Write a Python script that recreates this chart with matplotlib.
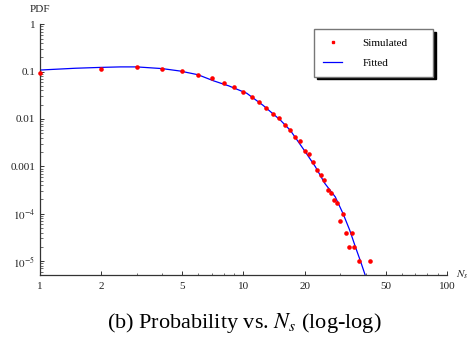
import matplotlib
matplotlib.use('Agg')
import matplotlib.pyplot as plt
from matplotlib.lines import Line2D
from matplotlib.ticker import FixedLocator, FixedFormatter, NullFormatter

plt.rcParams['font.family'] = ['Liberation Serif', 'DejaVu Serif']
plt.rcParams['mathtext.fontset'] = 'stix'

# Simulated data
sim_x = [1, 2, 3, 4, 5, 6, 7, 8, 9, 10, 11, 12, 13, 14, 15, 16, 17, 18, 19, 20,
         21, 22, 23, 24, 25, 26, 27, 28, 29, 30, 31, 32, 33, 34, 35, 37, 42]
sim_y = [0.095, 0.115, 0.125, 0.115, 0.103, 0.085, 0.072, 0.058, 0.047, 0.037,
         0.0295, 0.0224, 0.0173, 0.0129, 0.0103, 0.0076, 0.0058, 0.0042, 0.0034, 0.0021,
         0.0018, 0.00123, 0.00082, 0.00065, 0.00052, 0.00031, 0.000275, 0.00019, 0.00017, 7e-5,
         1e-4, 4e-5, 2e-5, 4e-5, 2e-5, 1e-5, 1e-5]

# Fitted curve
fit_x = [1, 1.5, 2, 2.5, 3, 4, 4.9, 6, 7.15, 8.5, 10.4, 12.5, 15.2, 17, 19.9,
         22.6, 25.1, 28.3, 30.9, 33.3, 35.5, 37.6, 39.7]
fit_y = [0.108, 0.118, 0.123, 0.126, 0.126, 0.116, 0.103, 0.086, 0.064, 0.050, 0.035,
         0.0195, 0.0095, 0.0058, 0.0022, 9.8e-4, 4.4e-4, 2.26e-4, 1e-4, 4.5e-5, 2e-5,
         1e-5, 5e-6]

x_ticks = [1, 2, 5, 10, 20, 50, 100]
x_tick_labels = ['1', '2', '5', '10', '20', '50', '100']
x_minor = [3, 4, 6, 7, 8, 9, 30, 40, 60, 70, 80, 90]
y_ticks = [1, 0.1, 0.01, 0.001, 1e-4, 1e-5]
y_tick_labels = ['1', '0.1', '0.01', '0.001', r'$10^{-4}$', r'$10^{-5}$']
y_minor = [m * 10.0 ** e for e in range(-6, 0) for m in range(2, 10)]

axis_color = '#333333'

fig = plt.figure(figsize=(4.71, 3.37), dpi=100)
ax = fig.add_axes([39.5 / 471, 1 - 275.3 / 337, (447 - 39.5) / 471, (275.3 - 24.3) / 337])
ax.set_xscale('log')
ax.set_yscale('log')

ax.plot(fit_x, fit_y, color='blue', lw=0.9, label='Fitted', zorder=2)
ax.plot(sim_x, sim_y, 'o', color='red', ms=3.3, mec='none', label='Simulated',
        zorder=3, clip_on=False)

ax.set_xlim(1, 100)
ax.set_ylim(5e-6, 1)

for s in ['top', 'right']:
    ax.spines[s].set_visible(False)
for s in ['left', 'bottom']:
    ax.spines[s].set_color(axis_color)
    ax.spines[s].set_linewidth(0.9)

ax.xaxis.set_major_locator(FixedLocator(x_ticks))
ax.xaxis.set_major_formatter(FixedFormatter(x_tick_labels))
ax.xaxis.set_minor_locator(FixedLocator(x_minor))
ax.xaxis.set_minor_formatter(NullFormatter())
ax.yaxis.set_major_locator(FixedLocator(y_ticks))
ax.yaxis.set_major_formatter(FixedFormatter(y_tick_labels))
ax.yaxis.set_minor_locator(FixedLocator(y_minor))
ax.yaxis.set_minor_formatter(NullFormatter())

ax.tick_params(which='both', direction='in', colors=axis_color, labelcolor='#222222',
               labelsize=8, top=False, right=False)
ax.tick_params(which='major', length=3.2, width=0.7)
ax.tick_params(which='minor', length=1.8, width=0.5)
ax.tick_params(axis='x', which='major', pad=5)
ax.tick_params(axis='y', which='major', pad=3)

fig.text(39.5 / 471, 1 - 9.5 / 337, 'PDF', ha='center', va='center', fontsize=8, color='#222222')
fig.text(456 / 471, 1 - 275 / 337, r'$N_s$', ha='left', va='center', fontsize=8, color='#222222')

fig.text(244 / 471, 1 - 323 / 337, r'(b) Probability vs. $N_s$ (log-log)',
         ha='center', va='center', fontsize=16, color='black')

handles = [Line2D([], [], marker='s', ms=2, color='red', ls='none'),
           Line2D([], [], color='blue', lw=0.9)]
leg = ax.legend(handles, ['Simulated', 'Fitted'], loc='upper left',
                bbox_to_anchor=(0.674, 0.98 - 0.191, 0.291, 0.191), mode='expand',
                borderaxespad=0, fontsize=8, frameon=True, fancybox=False,
                shadow={'color': 'black', 'alpha': 1}, handlelength=1.75,
                handletextpad=1.8, borderpad=0.8, labelspacing=0.9)
leg.get_frame().set_edgecolor('#777777')
leg.get_frame().set_linewidth(1.0)

fig.savefig('out.png', dpi=100)
